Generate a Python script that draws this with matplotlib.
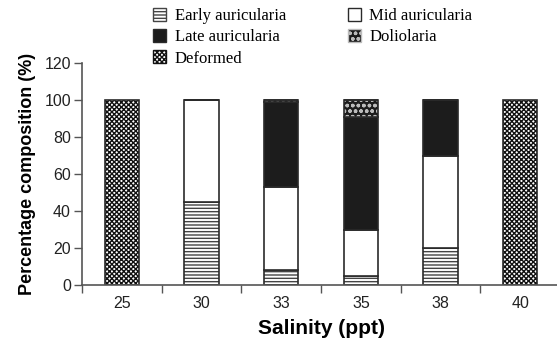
import numpy as np
import matplotlib
matplotlib.use("Agg")
import matplotlib.pyplot as plt
from matplotlib.patches import Patch

salinity = ["25", "30", "33", "35", "38", "40"]
early = [0, 45, 8, 5, 20, 0]
mid = [0, 55, 45, 25, 50, 0]
late = [0, 0, 46, 61, 30, 0]
dolio = [0, 0, 1, 9, 0, 0]
deformed = [100, 0, 0, 0, 0, 100]

plt.rcParams["font.family"] = ["Liberation Sans", "DejaVu Sans"]
plt.rcParams["hatch.linewidth"] = 1.0

fig = plt.figure(figsize=(5.57, 3.42), dpi=100)
ax = fig.add_axes([82 / 557, 57 / 342, 478 / 557, 222 / 342])

x = np.arange(len(salinity))
w = 0.43
edge = "#2a2a2a"
checker = "xxxxxxx"
waves = "ooo"

bottom = np.zeros(len(x))
# early auricularia - horizontal stripes
ax.bar(x, early, w, bottom=bottom, color="white", edgecolor="#444444", hatch="-----", lw=0)
ax.bar(x, early, w, bottom=bottom, color="none", edgecolor=edge, lw=1.2)
bottom += early
# mid auricularia - white
ax.bar(x, mid, w, bottom=bottom, color="white", edgecolor=edge, lw=1.2)
bottom += mid
# late auricularia - black
ax.bar(x, late, w, bottom=bottom, color="#1c1c1c", edgecolor=edge, lw=1.2)
bottom += late
# doliolaria - black with white waves
ax.bar(x, dolio, w, bottom=bottom, color="#1c1c1c", edgecolor="#bbbbbb", hatch=waves, lw=0)
ax.bar(x, dolio, w, bottom=bottom, color="none", edgecolor=edge, lw=1.2)
bottom += dolio
# deformed - checker
ax.bar(x, deformed, w, bottom=bottom, color="white", edgecolor="#111111", hatch=checker, lw=0)
ax.bar(x, deformed, w, bottom=bottom, color="none", edgecolor=edge, lw=1.2)

ax.set_xlim(-0.5, 5.5)
ax.set_ylim(0, 120)
ax.set_yticks(range(0, 121, 20))
ax.set_xticks(x)
ax.set_xticklabels(salinity)
ax.set_xticks(np.arange(-0.5, 5.5, 1), minor=True)
ax.tick_params(axis="x", which="major", length=0, labelsize=11.5, pad=8, colors="#222222")
ax.tick_params(axis="x", which="minor", length=6, width=1, color="#555555", direction="out")
ax.tick_params(axis="y", length=6, width=1, color="#555555", labelsize=11.5, pad=2, labelcolor="#222222")
for s in ["top", "right"]:
    ax.spines[s].set_visible(False)
for s in ["left", "bottom"]:
    ax.spines[s].set_color("#555555")
    ax.spines[s].set_linewidth(1.2)

ax.set_xlabel("Salinity (ppt)", fontsize=15, fontweight="bold", labelpad=6)
ax.set_ylabel("Percentage composition (%)", fontsize=13, fontweight="bold", labelpad=6)

handles = [
    Patch(facecolor="white", edgecolor="#444444", hatch="-----", label="Early auricularia"),
    Patch(facecolor="#1c1c1c", edgecolor=edge, label="Late auricularia"),
    Patch(facecolor="white", edgecolor="#111111", hatch=checker, label="Deformed"),
    Patch(facecolor="white", edgecolor=edge, label="Mid auricularia"),
    Patch(facecolor="#1c1c1c", edgecolor="#bbbbbb", hatch=waves, label="Doliolaria"),
]
fig.legend(handles=handles, ncol=2, loc="upper left", bbox_to_anchor=(138 / 557, 1.02),
           frameon=False, prop={"family": "Liberation Serif", "size": 12},
           handlelength=0.8, handleheight=0.8, handletextpad=0.5,
           columnspacing=3.7, labelspacing=0.3)

fig.savefig("out.png", dpi=100)
